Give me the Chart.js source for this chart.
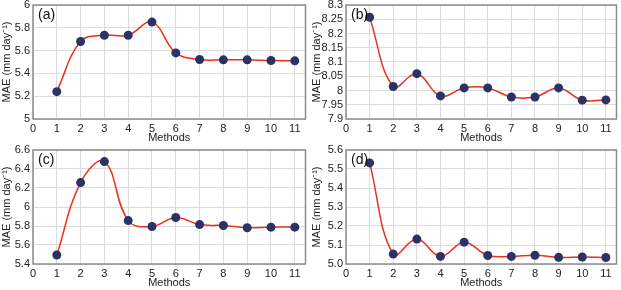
<!DOCTYPE html>
<html>
<head>
<meta charset="utf-8">
<script src="https://cdn.jsdelivr.net/npm/chart.js@4/dist/chart.umd.min.js"></script>
<style>
  body { margin: 0; background: #fff; }
  #wrap { position: relative; width: 621px; height: 290px; }
  .panel { position: absolute; }
</style>
</head>
<body>
<div id="wrap">
  <div class="panel" style="left:0;top:0"><canvas id="chartA" width="310" height="145"></canvas></div>
  <div class="panel" style="left:310px;top:0"><canvas id="chartB" width="311" height="145"></canvas></div>
  <div class="panel" style="left:0;top:145px"><canvas id="chartC" width="310" height="145"></canvas></div>
  <div class="panel" style="left:310px;top:145px"><canvas id="chartD" width="311" height="145"></canvas></div>
</div>
<script>
// methods 1..11
var methods = [1, 2, 3, 4, 5, 6, 7, 8, 9, 10, 11];

// MAE values
var maeA = [5.24, 5.68, 5.735, 5.735, 5.85, 5.58, 5.522, 5.519, 5.519, 5.513, 5.51];
var maeB = [8.257, 8.014, 8.059, 7.981, 8.009, 8.009, 7.977, 7.977, 8.009, 7.966, 7.967];
var maeC = [5.495, 6.257, 6.478, 5.857, 5.795, 5.89, 5.815, 5.805, 5.782, 5.788, 5.788];
var maeD = [5.532, 5.052, 5.131, 5.040, 5.115, 5.045, 5.040, 5.046, 5.035, 5.037, 5.034];

// y tick ranges per panel
var yMinA = 5, yMaxA = 6, yStepA = 0.2;
var yMinB = 7.9, yMaxB = 8.3, yStepB = 0.05;
var yMinC = 5.4, yMaxC = 6.6, yStepC = 0.2;
var yMinD = 5.0, yMaxD = 5.6, yStepD = 0.1;

var fontFam = "'Liberation Sans', Arial, sans-serif";

var framePlugin = {
    id: 'frame',
    afterDraw: function (chart, args, opts) {
        var a = chart.chartArea;
        var ctx = chart.ctx;
        ctx.save();
        ctx.strokeStyle = '#8c8c8c';
        ctx.lineWidth = 1.5;
        ctx.strokeRect(a.left, a.top, a.right - a.left, a.bottom - a.top);
        ctx.fillStyle = '#111';
        ctx.font = '14px ' + fontFam;
        ctx.textBaseline = 'top';
        ctx.fillText(opts.label, a.left + 5, a.top + 3);
        ctx.restore();
    }
};

function makeChart(id, label, values, yMin, yMax, yStep, fmt, axisW) {
    var pts = [];
    for (var i in methods) {
        pts.push({ x: methods[i], y: values[i] });
    }
    return new Chart(document.getElementById(id), {
        type: 'line',
        data: {
            datasets: [{
                data: pts,
                borderColor: '#e8321e',
                borderWidth: 1.5,
                tension: 0.4,
                pointRadius: 4.5,
                pointBackgroundColor: '#2b3366',
                pointBorderColor: '#2b3366',
                pointBorderWidth: 0
            }]
        },
        options: {
            responsive: false,
            animation: false,
            layout: { padding: { top: 5, right: 3, left: 0, bottom: 0 } },
            plugins: {
                legend: { display: false },
                tooltip: { enabled: false },
                frame: { label: label }
            },
            scales: {
                x: {
                    type: 'linear',
                    min: 0,
                    max: 11.45,
                    afterFit: function (s) {
                        s.height = 26;
                        s.paddingLeft = 0;
                        s.paddingRight = 0;
                    },
                    grid: { color: '#dcdcdc', drawTicks: false },
                    border: { display: false },
                    ticks: {
                        stepSize: 1,
                        autoSkip: false,
                        includeBounds: false,
                        padding: 3,
                        maxRotation: 0,
                        color: '#222',
                        font: { family: fontFam, size: 11 }
                    },
                    title: {
                        display: true,
                        text: 'Methods',
                        color: '#222',
                        padding: 0,
                        font: { family: fontFam, size: 11 }
                    }
                },
                y: {
                    min: yMin,
                    max: yMax,
                    afterFit: function (s) {
                        s.width = axisW;
                        s.paddingTop = 0;
                        s.paddingBottom = 0;
                    },
                    grid: { color: '#dcdcdc', drawTicks: false },
                    border: { display: false },
                    ticks: {
                        stepSize: yStep,
                        autoSkip: false,
                        padding: 3,
                        color: '#222',
                        font: { family: fontFam, size: 11 },
                        callback: fmt
                    },
                    title: {
                        display: true,
                        text: 'MAE (mm day\u207B\u00B9)',
                        color: '#222',
                        padding: 0,
                        font: { family: fontFam, size: 11 }
                    }
                }
            }
        },
        plugins: [framePlugin]
    });
}

function trimFmt(v) { return String(+v.toFixed(2)); }
function oneDec(v) { return v.toFixed(1); }

makeChart('chartA', '(a)', maeA, yMinA, yMaxA, yStepA, trimFmt, 33);
makeChart('chartB', '(b)', maeB, yMinB, yMaxB, yStepB, trimFmt, 36);
makeChart('chartC', '(c)', maeC, yMinC, yMaxC, yStepC, trimFmt, 33);
makeChart('chartD', '(d)', maeD, yMinD, yMaxD, yStepD, oneDec, 36);
</script>
</body>
</html>
